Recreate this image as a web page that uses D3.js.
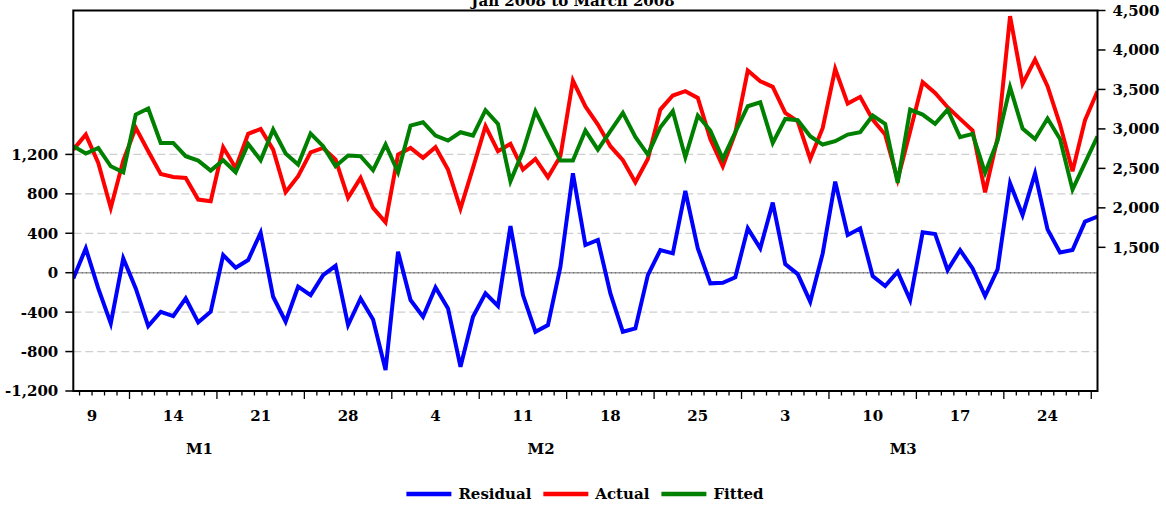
<!DOCTYPE html>
<html>
<head>
<meta charset="utf-8">
<script src="https://cdn.jsdelivr.net/npm/d3@7"></script>
<style>
  body { margin: 0; background: #fff; }
  svg text { font-family: "DejaVu Serif", serif; font-weight: bold; fill: #000; }
</style>
</head>
<body>
<svg id="chart" width="1166" height="508"></svg>
<script>
// ---- data -------------------------------------------------------------
const chartTitle = "Jan 2008 to March 2008";
const firstDay = "2008-01-09";
const lastDay = "2008-03-31";
const monthNames = ["M1", "M2", "M3"];

const actual = [
  2738, 2928, 2569, 1999, 2599, 3013, 2717, 2430, 2392, 2379,
  2105, 2083, 2768, 2506, 2937, 3000, 2738, 2197, 2400, 2704,
  2759, 2612, 2126, 2379, 1999, 1817, 2675, 2759, 2633, 2768,
  2485, 1990, 2506, 3034, 2717, 2810, 2485, 2620, 2388, 2655,
  3613, 3285, 3055, 2781, 2603, 2324, 2620, 3245, 3423, 3478,
  3393, 2873, 2527, 2950, 3740, 3604, 3533, 3203, 3097, 2620,
  3013, 3761, 3321, 3406, 3119, 2928, 2358, 2968, 3592, 3456,
  3275, 3127, 2979, 2197, 2885, 4428, 3571, 3879, 3541, 3055,
  2464, 3110, 3478
];
const fitted = [
  2781, 2688, 2759, 2527, 2451, 3182, 3258, 2823, 2823, 2654,
  2599, 2472, 2603, 2451, 2810, 2603, 2992, 2688, 2548, 2941,
  2781, 2527, 2662, 2654, 2476, 2802, 2451, 3042, 3085, 2916,
  2852, 2958, 2916, 3237, 3064, 2337, 2717, 3224, 2907, 2599,
  2599, 2979, 2738, 2971, 3203, 2899, 2675, 3021, 3224, 2641,
  3169, 2979, 2620, 2958, 3287, 3338, 2823, 3127, 3110, 2907,
  2802, 2844, 2928, 2958, 3169, 3064, 2316, 3245, 3182, 3064,
  3245, 2895, 2937, 2443, 2850, 3528, 3004, 2873, 3131, 2873,
  2231, 2569, 2907
];
const residual = [
   -58,  247, -159, -514,  146, -159, -541, -396, -440, -261,
  -504, -396,  179,   51,  129,  406, -244, -497, -142, -227,
   -24,   70, -531, -261, -474, -988,  213, -277, -447, -149,
  -362, -954, -447, -210, -338,  474, -227, -599, -531,   61,
  1008,  281,  332, -210, -599, -565,  -24,  230,  196,  829,
   247, -108, -102,  -47,  450,  247,  711,   88,  -14, -294,
   196,  924,  382,  450,  -34, -135,   10, -277,  410,  393,
    27,  230,   44, -237,   34,  907,  585, 1008,  440,  206,
   230,  518,  569
];

const leftTicks  = [-1200, -800, -400, 0, 400, 800, 1200];
const rightTicks = [1500, 2000, 2500, 3000, 3500, 4000, 4500];
const seriesNames  = ["Residual", "Actual", "Fitted"];
const seriesColors = ["#0000ff", "#ff0000", "#008000"];

// ---- layout -----------------------------------------------------------
const plot = { left: 73.3, right: 1097.5, top: 10.5, bottom: 391 };

const svg = d3.select("#chart");
const parse = d3.utcParse("%Y-%m-%d");
const days = d3.utcDay.range(parse(firstDay), d3.utcDay.offset(parse(lastDay), 1));

const x = d3.scaleUtc()
  .domain([days[0], days[days.length - 1]])
  .range([plot.left, plot.right]);
const yL = d3.scaleLinear().domain([-1200, 2660]).range([plot.bottom, plot.top]);
const yR = d3.scaleLinear().domain([-320, 4500]).range([plot.bottom, plot.top]);

const dayW = x(days[1]) - x(days[0]);
const half = dayW / 2;
const fmt = d3.format(",");

// ---- grid -------------------------------------------------------------
svg.append("g")
  .selectAll("line")
  .data(leftTicks.filter(v => v !== 0 && v !== -1200))
  .join("line")
  .attr("x1", plot.left).attr("x2", plot.right)
  .attr("y1", d => yL(d)).attr("y2", d => yL(d))
  .attr("stroke", "#cfcfcf").attr("stroke-width", 1.2)
  .attr("stroke-dasharray", "8,4");

// zero line: grey rule with a fine darker dot pattern
svg.append("line")
  .attr("x1", plot.left).attr("x2", plot.right)
  .attr("y1", yL(0)).attr("y2", yL(0))
  .attr("stroke", "#a0a0a0").attr("stroke-width", 1.6);
svg.append("line")
  .attr("x1", plot.left).attr("x2", plot.right)
  .attr("y1", yL(0)).attr("y2", yL(0))
  .attr("stroke", "#707070").attr("stroke-width", 1.6)
  .attr("stroke-dasharray", "1,3.2");

// ---- series -----------------------------------------------------------
const lineL = d3.line().x((d, i) => x(days[i])).y(d => yL(d));
const lineR = d3.line().x((d, i) => x(days[i])).y(d => yR(d));

svg.append("clipPath").attr("id", "plotclip")
  .append("rect")
  .attr("x", plot.left).attr("y", plot.top)
  .attr("width", plot.right - plot.left).attr("height", plot.bottom - plot.top);

const lines = svg.append("g").attr("clip-path", "url(#plotclip)");
lines.append("path").datum(residual).attr("d", lineL)
  .attr("fill", "none").attr("stroke", seriesColors[0]).attr("stroke-width", 4);
lines.append("path").datum(actual).attr("d", lineR)
  .attr("fill", "none").attr("stroke", seriesColors[1]).attr("stroke-width", 4);
lines.append("path").datum(fitted).attr("d", lineR)
  .attr("fill", "none").attr("stroke", seriesColors[2]).attr("stroke-width", 4);

// ---- frame ------------------------------------------------------------
svg.append("rect")
  .attr("x", plot.left).attr("y", plot.top)
  .attr("width", plot.right - plot.left).attr("height", plot.bottom - plot.top)
  .attr("fill", "none").attr("stroke", "#000").attr("stroke-width", 2);

// ---- left axis (residual) ---------------------------------------------
const gl = svg.append("g");
gl.selectAll("line").data(leftTicks).join("line")
  .attr("x1", plot.left - 8).attr("x2", plot.left)
  .attr("y1", d => yL(d)).attr("y2", d => yL(d))
  .attr("stroke", "#000").attr("stroke-width", 1.5);
gl.selectAll("text").data(leftTicks).join("text")
  .attr("x", plot.left - 15).attr("y", d => yL(d))
  .attr("dy", "0.36em").attr("text-anchor", "end")
  .attr("font-size", 15)
  .text(d => fmt(d).replace("−", "-"));

// ---- right axis (actual / fitted) -------------------------------------
const gr = svg.append("g");
gr.selectAll("line").data(rightTicks).join("line")
  .attr("x1", plot.right).attr("x2", plot.right + 8)
  .attr("y1", d => yR(d)).attr("y2", d => yR(d))
  .attr("stroke", "#000").attr("stroke-width", 1.5);
gr.selectAll("text").data(rightTicks).join("text")
  .attr("x", plot.right + 15).attr("y", d => yR(d))
  .attr("dy", "0.36em").attr("text-anchor", "start")
  .attr("font-size", 15)
  .text(d => fmt(d));

// ---- date axis --------------------------------------------------------
// a tick between every pair of days, longer where a new week starts (Monday)
const gx = svg.append("g");
gx.selectAll("line").data(days.slice(1)).join("line")
  .attr("x1", d => x(d) - half).attr("x2", d => x(d) - half)
  .attr("y1", plot.bottom)
  .attr("y2", d => plot.bottom + (d.getUTCDay() === 1 ? 8 : 4.5))
  .attr("stroke", "#000").attr("stroke-width", 1.3);

// one label per week, centred on the week; a partial first week leans left
const weeks = d3.groups(days, d => +d3.utcMonday.floor(d))
  .map(([, ds]) => ds)
  .filter(ds => ds.length >= 3);
function weekCentre(ds) {
  const mid = (x(ds[0]) + x(ds[ds.length - 1])) / 2;
  return ds.length < 7 && ds[0] === days[0] ? mid - (7 - ds.length) * dayW * 0.25 : mid;
}
gx.selectAll("text").data(weeks).join("text")
  .attr("x", weekCentre)
  .attr("y", 421)
  .attr("text-anchor", "middle")
  .attr("font-size", 15)
  .text(ds => ds[0].getUTCDate());

// month captions under the week labels
const monthShift = [-0.9, 0.45, -0.55];   // in days, nudges for each caption
const months = d3.groups(days, d => d.getUTCMonth()).map(([, ds]) => ds);
svg.append("g").selectAll("text").data(months).join("text")
  .attr("x", (ds, i) => (x(ds[0]) + x(ds[ds.length - 1])) / 2 + monthShift[i] * dayW)
  .attr("y", 454)
  .attr("text-anchor", "middle")
  .attr("font-size", 15)
  .text((ds, i) => monthNames[i]);

// ---- title (sits on the top edge of the canvas) -----------------------
svg.append("text")
  .attr("x", 573).attr("y", 6)
  .attr("text-anchor", "middle")
  .attr("font-size", 15)
  .text(chartTitle);

// ---- legend -----------------------------------------------------------
const legend = svg.append("g");
const items = legend.selectAll("g").data(seriesNames).join("g");
items.append("line")
  .attr("x1", 0).attr("x2", 45).attr("y1", 0).attr("y2", 0)
  .attr("stroke", (d, i) => seriesColors[i]).attr("stroke-width", 4.5);
items.append("text")
  .attr("x", 52).attr("dy", "0.36em")
  .attr("font-size", 15)
  .text(d => d);
let cursor = 0;
const offsets = [];
items.each(function () {
  offsets.push(cursor);
  const tw = d3.select(this).select("text").node().getComputedTextLength();
  cursor += 52 + tw + 12;
});
const total = cursor - 12;
const start = 585 - total / 2;
items.attr("transform", (d, i) => `translate(${start + offsets[i]},494)`);
</script>
</body>
</html>
